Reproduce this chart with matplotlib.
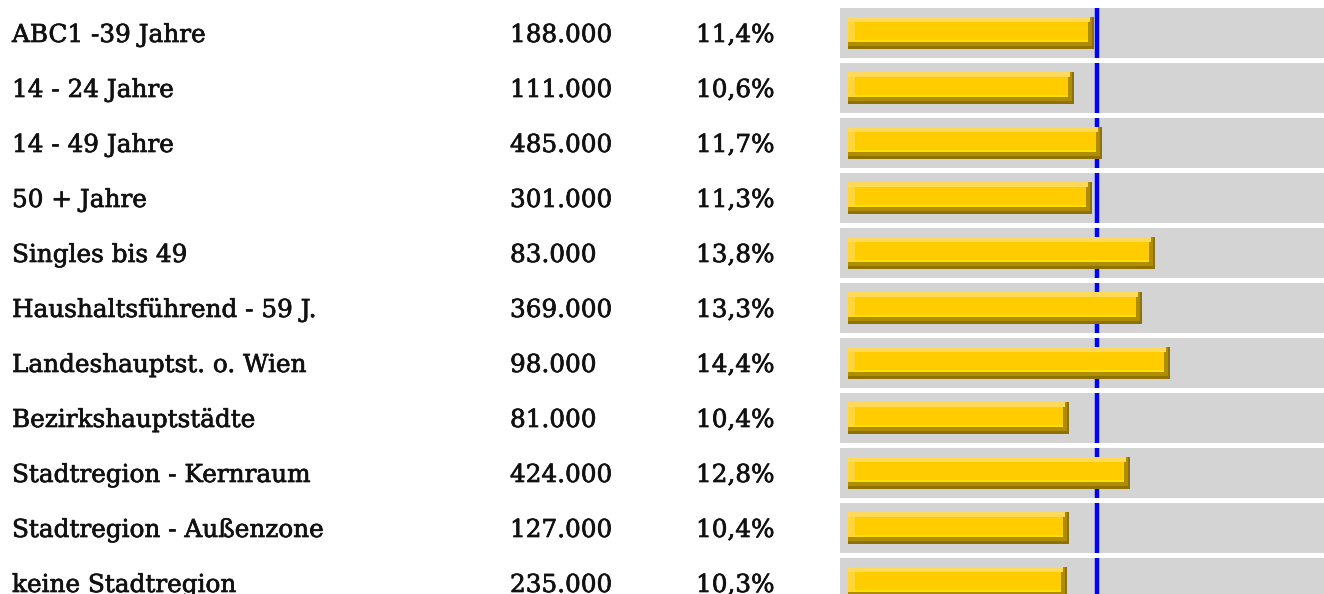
import matplotlib
matplotlib.use('Agg')
import matplotlib.pyplot as plt
import matplotlib.patheffects as pe
from matplotlib.transforms import blended_transform_factory

# data
labels = ['ABC1 -39 Jahre', '14 - 24 Jahre', '14 - 49 Jahre', '50 + Jahre',
          'Singles bis 49', 'Haushaltsführend - 59 J.', 'Landeshauptst. o. Wien',
          'Bezirkshauptstädte', 'Stadtregion - Kernraum', 'Stadtregion - Außenzone',
          'keine Stadtregion']
counts = ['188.000', '111.000', '485.000', '301.000', '83.000', '369.000',
          '98.000', '81.000', '424.000', '127.000', '235.000']
shares = [11.4, 10.6, 11.7, 11.3, 13.8, 13.3, 14.4, 10.4, 12.8, 10.4, 10.3]
average = 11.5

W, H = 1324, 594
ROW = 55.0          # px per row
PXU = 25.3          # px per percent point
X0 = 806.0          # px position of 0 %
band_left, bar_left = 840, 848

fig = plt.figure(figsize=(W / 100, H / 100), dpi=100)
fig.patch.set_facecolor('white')
ax = fig.add_axes([band_left / W, 0, (W - band_left) / W, 1])
ax.set_xlim((band_left - X0) / PXU, (W - X0) / PXU)
ax.set_ylim((H - 33) / ROW, -33 / ROW)
ax.axis('off')

px = 1 / PXU   # one pixel in x data units
py = 1 / ROW   # one pixel in y data units
left = (bar_left - X0) / PXU
y = list(range(len(labels)))
xmin, xmax = ax.get_xlim()

# grey background bands
ax.barh(y, xmax - xmin, left=xmin, height=50 * py, color='#d4d4d4', zorder=1)

# average line, one piece per row, behind the bars
for i in y:
    ax.plot([average, average], [i - 25 * py, i + 25 * py],
            color='#0000ff', lw=3.2, solid_capstyle='butt', zorder=1.5)


def layer(dy0, dy1, dx0, dx1, color, z):
    # horizontal strip of every bar, offsets in px from the bar's top / ends
    top = [i - 16 * py for i in y]
    ax.barh([t + (dy0 + dy1) / 2 * py for t in top],
            [v - left - (dx0 + dx1) * px for v in shares],
            left=left + dx0 * px, height=(dy1 - dy0) * py,
            color=color, lw=0, zorder=z)


# bevelled yellow bars
layer(0, 32, 0, 0, '#8f7100', 2)
layer(0, 29, 0, 2, '#b08c00', 3)
layer(0, 25, 0, 6, '#ffd53a', 4)        # left highlight shows at the edge
layer(0, 25, 7, 6, '#ffcc00', 4.5)      # face
layer(22.5, 25, 5, 6, '#ffe000', 5)
layer(0, 5, 0, 4, '#ffd95a', 5)

# text columns
tr = blended_transform_factory(fig.transFigure, ax.transData)
font = dict(family='DejaVu Serif', fontsize=17.8, color='#111111', va='center',
            path_effects=[pe.withStroke(linewidth=0.5, foreground='#111111')])
for i in y:
    ax.text(12 / W, i + 2.5 * py, labels[i], transform=tr, **font)
    ax.text(510 / W, i + 2.5 * py, counts[i], transform=tr, **font)
    ax.text(696 / W, i + 2.5 * py, f'{shares[i]:.1f}%'.replace('.', ','),
            transform=tr, **font)

fig.savefig('out.png', dpi=100)
